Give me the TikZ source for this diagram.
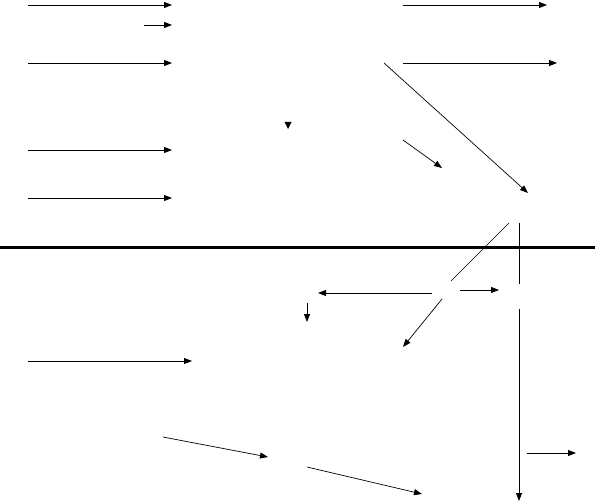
\documentclass[tikz,border=0pt]{standalone}
\usetikzlibrary{arrows.meta}
\begin{document}
\begin{tikzpicture}[x=1pt,y=-1pt,
  arr/.style={line width=0.9pt,-{Triangle[length=8pt,width=6pt]}},
  thinarr/.style={line width=0.7pt,-{Triangle[length=8pt,width=6pt]}},
  thinline/.style={line width=0.7pt},
  baseline/.style={line width=3pt}]
\useasboundingbox (0,0) rectangle (595,503);
% named points
\coordinate (a1s) at (28,5);   \coordinate (a1e) at (172,5);
\coordinate (a2s) at (144,25); \coordinate (a2e) at (172,25);
\coordinate (a3s) at (28,63);  \coordinate (a3e) at (172,63);
\coordinate (a4s) at (28,150); \coordinate (a4e) at (172,150);
\coordinate (a5s) at (28,198); \coordinate (a5e) at (172,198);
\coordinate (b1s) at (403,5);  \coordinate (b1e) at (547,5);
\coordinate (b2s) at (403,63); \coordinate (b2e) at (557,63);
\coordinate (d1s) at (384,63); \coordinate (d1e) at (528,193);
\coordinate (d2s) at (403,140);\coordinate (d2e) at (442,168);
\coordinate (tris) at (288,121); \coordinate (trie) at (288,129);
\coordinate (hl) at (0,247);   \coordinate (hr) at (595,247);
\coordinate (l1s) at (509,223);\coordinate (l1e) at (451,281);
\coordinate (v1s) at (519,223);\coordinate (v1e) at (519,284);
\coordinate (c1s) at (432,293);\coordinate (c1e) at (318,293);
\coordinate (c2s) at (460,290);\coordinate (c2e) at (499,290);
\coordinate (c3s) at (307,303);\coordinate (c3e) at (307,322);
\coordinate (c4s) at (442,299);\coordinate (c4e) at (403,347);
\coordinate (v2s) at (519,309);\coordinate (v2e) at (519,501);
\coordinate (c5s) at (527,453);\coordinate (c5e) at (576,453);
\coordinate (c6s) at (307,467);\coordinate (c6e) at (422,494);
\coordinate (e1s) at (28,361); \coordinate (e1e) at (192,361);
\coordinate (e2s) at (163,437);\coordinate (e2e) at (268,457);
% upper arrows
\draw[arr] (a1s) -- (a1e);
\draw[arr] (a2s) -- (a2e);
\draw[arr] (a3s) -- (a3e);
\draw[arr] (a4s) -- (a4e);
\draw[arr] (a5s) -- (a5e);
\draw[arr] (b1s) -- (b1e);
\draw[arr] (b2s) -- (b2e);
\draw[thinarr] (d1s) -- (d1e);
\draw[thinarr] (d2s) -- (d2e);
\fill (284.5,122) -- (291.5,122) -- (288,129) -- cycle;
% dividing line
\draw[baseline] (hl) -- (hr);
\draw[thinline] (l1s) -- (l1e);
\draw[thinline] (v1s) -- (v1e);
% lower arrows
\draw[arr] (c1s) -- (c1e);
\draw[arr] (c2s) -- (c2e);
\draw[arr] (c3s) -- (c3e);
\draw[thinarr] (c4s) -- (c4e);
\draw[arr] (v2s) -- (v2e);
\draw[arr] (c5s) -- (c5e);
\draw[thinarr] (c6s) -- (c6e);
\draw[arr] (e1s) -- (e1e);
\draw[thinarr] (e2s) -- (e2e);
\end{tikzpicture}
\end{document}
